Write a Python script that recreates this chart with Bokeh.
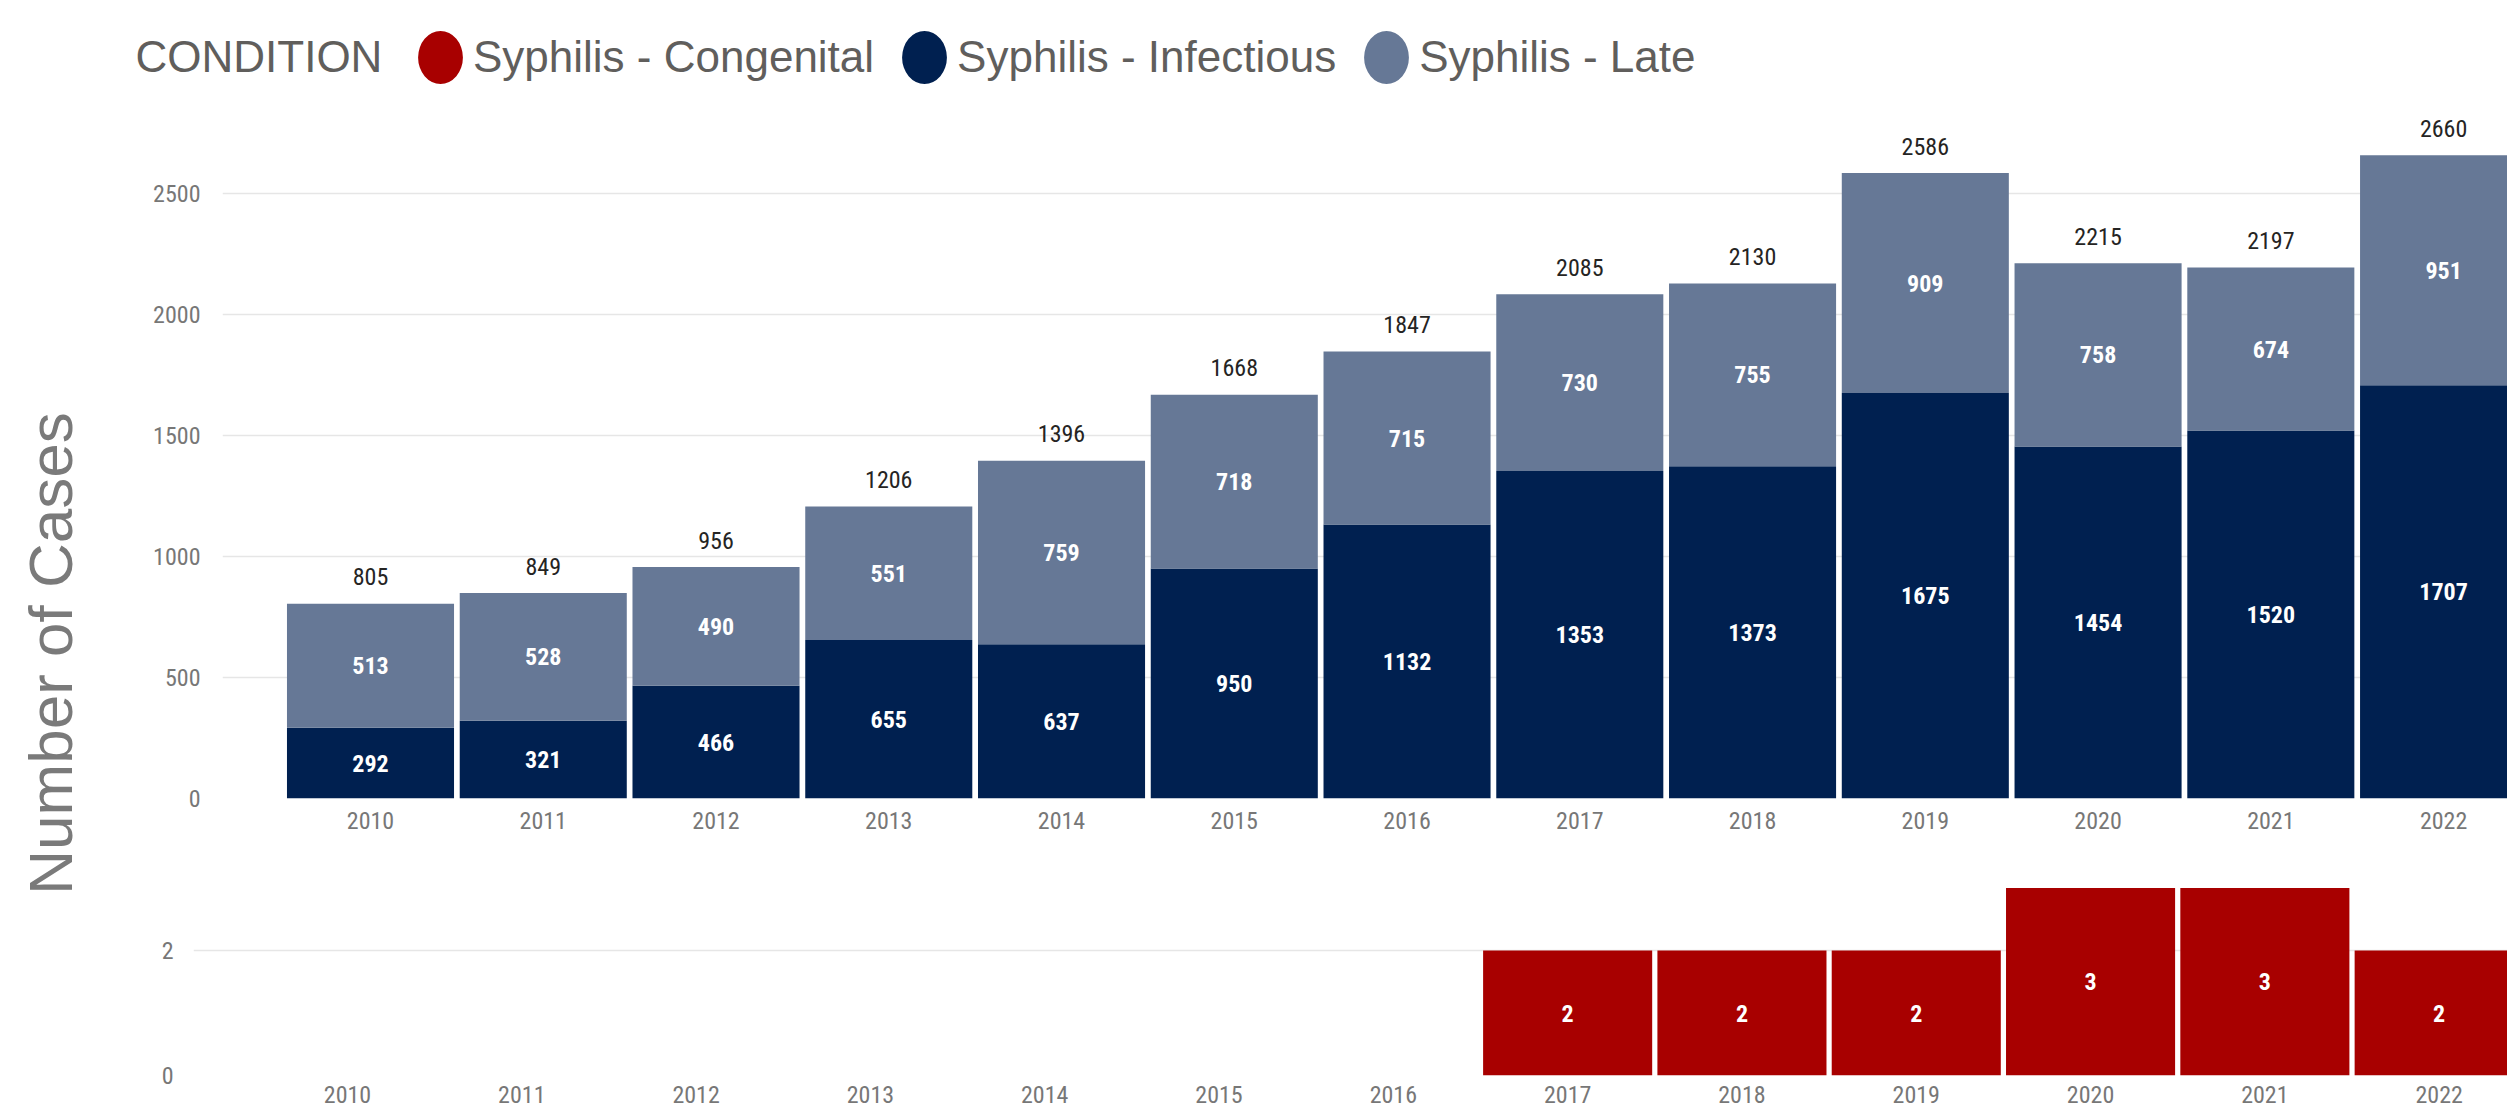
import math
from bokeh.plotting import figure
from bokeh.models import (Range1d, FixedTicker, ColumnDataSource, Legend,
                          LegendItem, Label)
from bokeh.layouts import row, column
from bokeh.embed import file_html
from bokeh.resources import INLINE
from bokeh.core.properties import value

# ---------------- data ----------------
years = [2010, 2011, 2012, 2013, 2014, 2015, 2016, 2017, 2018, 2019, 2020, 2021, 2022]
infectious = [292, 321, 466, 655, 637, 950, 1132, 1353, 1373, 1675, 1454, 1520, 1707]
late = [513, 528, 490, 551, 759, 718, 715, 730, 755, 909, 758, 674, 951]
congenital = [0, 0, 0, 0, 0, 0, 0, 2, 2, 2, 3, 3, 2]
series_names = ["Syphilis - Congenital", "Syphilis - Infectious", "Syphilis - Late"]
top_ticks = [0, 500, 1000, 1500, 2000, 2500]
bottom_ticks = [0, 2]
legend_title = "CONDITION"
y_title = "Number of Cases"

# ---------------- styles ----------------
C_CONG, C_INF, C_LATE = "#A80000", "#002050", "#667896"
series_colors = [C_CONG, C_INF, C_LATE]
GRID = "#E6E6E6"
TICK_COLOR = "#777777"
NARROW = "Liberation Sans Narrow, Roboto Condensed, Roboto"
UI = "Liberation Sans"

totals = [i + l + c for i, l, c in zip(infectious, late, congenital)]
src = ColumnDataSource(dict(
    year=years,
    infectious=infectious,
    late=late,
    congenital=congenital,
    total=totals,
    inf_mid=[i / 2 for i in infectious],
    late_mid=[i + l / 2 for i, l in zip(infectious, late)],
    stack_top=[i + l for i, l in zip(infectious, late)],
    inf_txt=[str(v) for v in infectious],
    late_txt=[str(v) for v in late],
    total_txt=[str(v) for v in totals],
    cong_mid=[c / 2 for c in congenital],
    cong_txt=[str(c) if c else "" for c in congenital],
))


def bare(p):
    p.axis.visible = False
    p.grid.visible = False
    p.outline_line_color = None


def style_axes(p, yticks, x_standoff, y_standoff):
    p.xaxis.ticker = FixedTicker(ticks=years)
    p.yaxis.ticker = FixedTicker(ticks=yticks)
    for ax in (p.xaxis, p.yaxis):
        ax.axis_line_color = None
        ax.major_tick_line_color = None
        ax.minor_tick_line_color = None
        ax.major_tick_out = 0
        ax.major_tick_in = 0
        ax.major_label_text_font = NARROW
        ax.major_label_text_font_size = "24px"
        ax.major_label_text_color = TICK_COLOR
    p.xaxis.major_label_standoff = x_standoff
    p.yaxis.major_label_standoff = y_standoff
    p.xgrid.visible = False
    p.ygrid.ticker = FixedTicker(ticks=yticks)
    p.ygrid.grid_line_color = GRID
    p.ygrid.grid_line_width = 1.5
    p.outline_line_color = None


# ---------------- legend strip ----------------
# (the strip's y-range lies below every total, so these markers only
#  serve as legend swatches)
pleg = figure(width=2507, height=100, x_range=Range1d(0, 2507),
              y_range=Range1d(0, 100), output_backend="svg",
              toolbar_location=None, min_border=0)
bare(pleg)
leg_renderers = [pleg.ellipse(x="year", y="total", width=45, height=53,
                              width_units="screen", height_units="screen",
                              fill_color=c, line_color=None, source=src)
                 for c in series_colors]
legend = Legend(items=[LegendItem(label=n, renderers=[r])
                       for n, r in zip(series_names, leg_renderers)],
                orientation="horizontal", location=(407, 10),
                glyph_width=66, glyph_height=66, label_standoff=0,
                spacing=17, padding=0, margin=0,
                border_line_color=None, background_fill_alpha=0,
                label_text_font=UI, label_text_font_size="44px",
                label_text_color="#605E5C")
pleg.add_layout(legend)
pleg.add_layout(Label(x=135, y=44.5, text=legend_title, text_font=UI,
                      text_font_size="44px", text_color="#605E5C",
                      text_align="left", text_baseline="middle"))

# ---------------- top chart ----------------
p1 = figure(width=2407, frame_height=698,
            x_range=Range1d(2009.1433, 2022.370), y_range=Range1d(0, 2884),
            output_backend="svg", toolbar_location=None,
            min_border_left=122, min_border_right=0, min_border_top=0,
            min_border_bottom=41)
p1.frame_align = False
style_axes(p1, top_ticks, 13, 22)

p1.vbar_stack(["infectious", "late"], x="year", width=0.967,
              fill_color=[C_INF, C_LATE], line_color=None, source=src)

p1.text(x="year", y="inf_mid", text="inf_txt", source=src,
        text_font=value(NARROW), text_font_style="bold", text_font_size="24px",
        text_color="white", text_align="center", text_baseline="middle")
p1.text(x="year", y="late_mid", text="late_txt", source=src,
        text_font=value(NARROW), text_font_style="bold", text_font_size="24px",
        text_color="white", text_align="center", text_baseline="middle")
p1.text(x="year", y="stack_top", text="total_txt", source=src,
        text_font=value(NARROW), text_font_size="24px", y_offset=-27,
        text_color="#252423", text_align="center", text_baseline="middle")

# ---------------- bottom chart ----------------
p2 = figure(width=2407, frame_height=236,
            x_range=Range1d(2009.1165, 2022.392), y_range=Range1d(0, 3.776),
            output_backend="svg", toolbar_location=None,
            min_border_left=93, min_border_right=0, min_border_top=0,
            min_border_bottom=35)
p2.frame_align = False
style_axes(p2, bottom_ticks, 10, 20)
p2.vbar(x="year", top="congenital", width=0.97, fill_color=C_CONG,
        line_color=None, source=src)
p2.text(x="year", y="cong_mid", text="cong_txt", source=src,
        text_font=value(NARROW), text_font_style="bold", text_font_size="24px",
        text_color="white", text_align="center", text_baseline="middle")

# ---------------- shared y title ----------------
pl = figure(width=100, height=1010, x_range=Range1d(0, 100),
            y_range=Range1d(0, 1010), output_backend="svg",
            toolbar_location=None, min_border=0)
bare(pl)
pl.add_layout(Label(x=50, y=457, text=y_title, angle=math.pi / 2,
                    text_align="center", text_baseline="middle",
                    text_font=UI, text_font_size="62px", text_color="#7A7A7A"))

layout = column(pleg, row(pl, column(p1, p2)))
open("out.html", "w").write(file_html(layout, INLINE))
